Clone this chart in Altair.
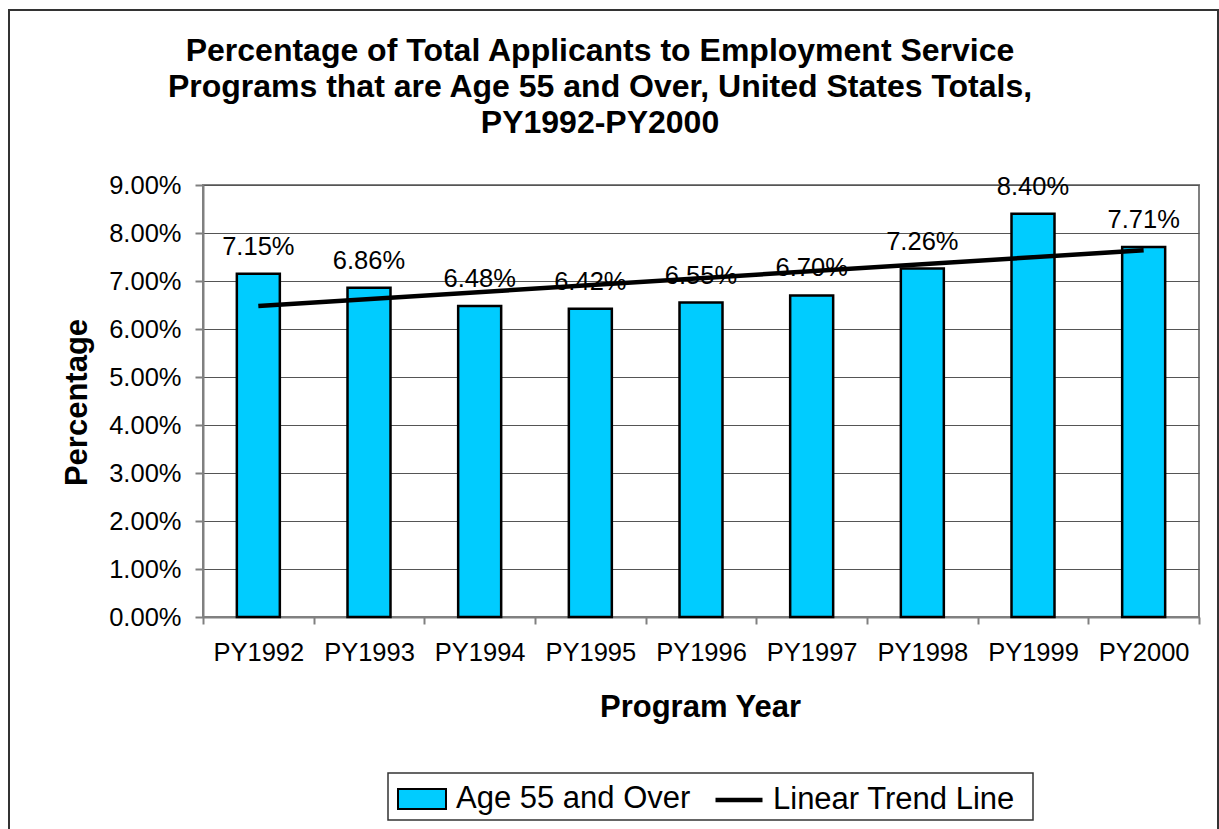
import altair as alt
import pandas as pd

years = ["PY1992", "PY1993", "PY1994", "PY1995", "PY1996", "PY1997", "PY1998", "PY1999", "PY2000"]
pct_values = [7.15, 6.86, 6.48, 6.42, 6.55, 6.70, 7.26, 8.40, 7.71]
series_name = "Age 55 and Over"
trend_name = "Linear Trend Line"
title_lines = [
    "Percentage of Total Applicants to Employment Service",
    "Programs that are Age 55 and Over, United States Totals,",
    "PY1992-PY2000",
]
y_ticks = [0, 1, 2, 3, 4, 5, 6, 7, 8, 9]

FONT = "Liberation Sans, Arial, sans-serif"

df = pd.DataFrame({"year": years, "pct": pct_values, "idx": list(range(len(years)))})
df["series"] = series_name
df["label"] = [f"{v:.2f}%" for v in pct_values]

W, H = 996, 432

x_enc = alt.X(
    "year:N",
    sort=years,
    scale=alt.Scale(paddingInner=0, paddingOuter=0),
    axis=alt.Axis(
        title="Program Year",
        titleFontSize=31,
        titleFont=FONT,
        titleFontWeight="bold",
        titleBaseline="alphabetic",
        titleY=99,
        titleX=497,
        titleAlign="center",
        labelAngle=0,
        labelFontSize=25.5,
        labelFont=FONT,
        labelColor="black",
        labelPadding=16,
        tickBand="extent",
        tickSize=7,
        tickColor="#808080",
        tickWidth=2,
        domainColor="#808080",
        domainWidth=2,
        grid=False,
    ),
)

y_enc = alt.Y(
    "pct:Q",
    scale=alt.Scale(domain=[0, 9], nice=False),
    axis=alt.Axis(
        title="Percentage",
        titleFontSize=31,
        titleFont=FONT,
        titleFontWeight="bold",
        titleBaseline="alphabetic",
        titleAngle=270,
        titleX=-117,
        titleY=217,
        titleAlign="center",
        values=y_ticks,
        labelExpr="format(datum.value, '.2f') + '%'",
        labelFontSize=25.5,
        labelFont=FONT,
        labelColor="black",
        labelPadding=14,
        tickSize=8,
        tickColor="#808080",
        tickWidth=2,
        domainColor="#808080",
        domainWidth=2,
        grid=True,
        gridColor="#555555",
        gridWidth=1,
    ),
)

base = alt.Chart(df)

outer_frame = alt.Chart(alt.Data(values=[{"a": 1}])).mark_rect(
    fillOpacity=0, stroke="#333333", strokeWidth=2
).encode(
    x=alt.value(-194), x2=alt.value(1015), y=alt.value(-175), y2=alt.value(670)
)

bars = base.mark_bar(size=43, stroke="black", strokeWidth=2.5).encode(
    x=x_enc,
    y=y_enc,
    fill=alt.Fill(
        "series:N",
        scale=alt.Scale(domain=[series_name], range=["#00CCFF"]),
        legend=alt.Legend(
            title=None,
            orient="none",
            legendX=194,
            legendY=589,
            symbolType="M-1,-0.42H1V0.42H-1Z",
            symbolSize=2304,
            symbolStrokeColor="black",
            symbolStrokeWidth=2,
            symbolOpacity=1,
            labelFontSize=31,
            labelFont=FONT,
            labelColor="black",
            labelOffset=9,
            labelLimit=500,
            padding=0,
        ),
    ),
)

labels = base.mark_text(
    dy=-19, baseline="alphabetic", fontSize=25.5, font=FONT, color="black"
).encode(x=alt.X("year:N", sort=years), y="pct:Q", text="label:N")

trend = (
    base.transform_regression("idx", "pct", method="linear", extent=[0, len(years) - 1])
    .transform_calculate(
        year="[" + ",".join(f"'{y}'" for y in years) + "][datum.idx]",
        tname=f"'{trend_name}'",
    )
    .mark_line(strokeWidth=4.5)
    .encode(
        x=alt.X("year:N", sort=years),
        y="pct:Q",
        stroke=alt.Stroke(
            "tname:N",
            scale=alt.Scale(domain=[trend_name], range=["black"]),
            legend=alt.Legend(
                title=None,
                orient="none",
                legendX=510,
                legendY=589,
                symbolType="stroke",
                symbolSize=2209,
                symbolStrokeWidth=4.5,
                labelFontSize=31,
                labelFont=FONT,
                labelColor="black",
                labelOffset=8,
                labelLimit=500,
                padding=0,
            ),
        ),
    )
)

legend_frame = alt.Chart(alt.Data(values=[{"a": 1}])).mark_rect(
    fillOpacity=0, stroke="#333333", strokeWidth=1.5
).encode(
    x=alt.value(185), x2=alt.value(830), y=alt.value(588), y2=alt.value(635)
)

chart = (
    alt.layer(outer_frame, bars, labels, trend, legend_frame)
    .properties(
        width=W,
        height=H,
        autosize=alt.AutoSizeParams(type="none"),
        padding={"left": 203, "top": 185, "right": 20, "bottom": 212},
        background="white",
        title=alt.TitleParams(
            text=title_lines,
            fontSize=32,
            font=FONT,
            fontWeight="bold",
            color="black",
            lineHeight=36,
            anchor="middle",
            frame="group",
            dx=-101,
            offset=0,
            dy=131,
        ),
    )
    .configure_view(stroke="#808080", strokeWidth=2)
)

chart.save("out.html", embed_options={"renderer": "svg", "actions": False})
